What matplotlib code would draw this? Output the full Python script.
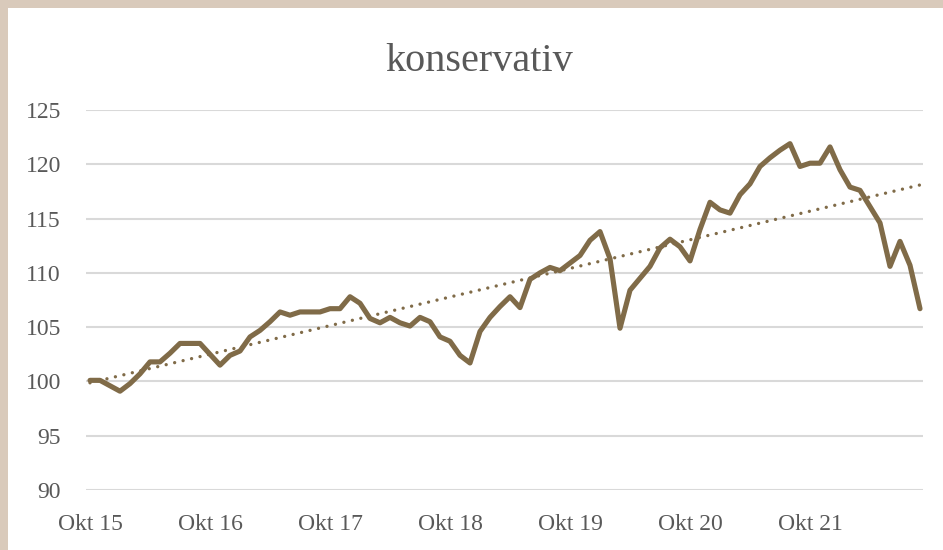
import numpy as np
import matplotlib
matplotlib.use('Agg')
import matplotlib.pyplot as plt
from matplotlib.patches import Rectangle

# monthly index values, Okt 2015 onwards
values = [100.1, 100.1, 99.6, 99.1, 99.8, 100.7, 101.8, 101.8, 102.6, 103.5,
          103.5, 103.5, 102.5, 101.5, 102.4, 102.8, 104.1, 104.7, 105.5, 106.4,
          106.1, 106.4, 106.4, 106.4, 106.7, 106.7, 107.8, 107.2, 105.8, 105.4,
          105.9, 105.4, 105.1, 105.9, 105.5, 104.1, 103.7, 102.4, 101.7, 104.6,
          105.9, 106.9, 107.8, 106.8, 109.4, 110.0, 110.5, 110.2, 110.9, 111.6,
          113.0, 113.8, 111.3, 104.9, 108.4, 109.5, 110.6, 112.3, 113.1, 112.4,
          111.1, 114.0, 116.5, 115.8, 115.5, 117.2, 118.2, 119.8, 120.6, 121.3,
          121.9, 119.8, 120.1, 120.1, 121.6, 119.5, 117.9, 117.6, 116.1, 114.6,
          110.6, 112.9, 110.7, 106.7]
tick_labels = ['Okt 15', 'Okt 16', 'Okt 17', 'Okt 18', 'Okt 19', 'Okt 20', 'Okt 21']
y_ticks = [90, 95, 100, 105, 110, 115, 120, 125]

line_col = '#806b48'
text_col = '#595959'

plt.rcParams['font.family'] = ['Liberation Serif', 'DejaVu Serif']

fig = plt.figure(figsize=(9.43, 5.5), dpi=100)
fig.patch.set_facecolor('#d9cabb')
# white chart area, beige frame only on the left and top
fig.patches.append(Rectangle((8 / 943, 0), 1, 1 - 8 / 550, transform=fig.transFigure,
                             facecolor='white', edgecolor='none', zorder=-10))

ax = fig.add_axes([86 / 943, 60 / 550, (923 - 86) / 943, 380 / 550])
ax.set_facecolor('none')

x = np.arange(len(values))
ax.plot(x, values, color=line_col, lw=3.7, solid_joinstyle='round', solid_capstyle='round', zorder=3)

# linear trend line (like Excel)
k, d = np.polyfit(x, values, 1)
ax.plot(x, k * x + d, color=line_col, lw=2.4, linestyle=(0, (0.01, 2.6)),
        dash_capstyle='round', zorder=2)

ax.set_xlim(-0.4, 83.3)
ax.set_ylim(90, 125)
ax.set_yticks(y_ticks)
ax.set_xticks(np.arange(0, 84, 12)[:len(tick_labels)])
ax.set_xticklabels(tick_labels)
ax.yaxis.grid(True, color='#d9d9d9', lw=1.5)
ax.set_axisbelow(True)
for s in ax.spines.values():
    s.set_visible(False)
ax.tick_params(length=0, labelsize=17, labelcolor=text_col)
ax.tick_params(axis='y', pad=18)
ax.tick_params(axis='x', pad=17)

fig.text(0.508, 0.888, 'konservativ', ha='center', va='center', fontsize=29, color=text_col)

fig.savefig('out.png', dpi=100)
